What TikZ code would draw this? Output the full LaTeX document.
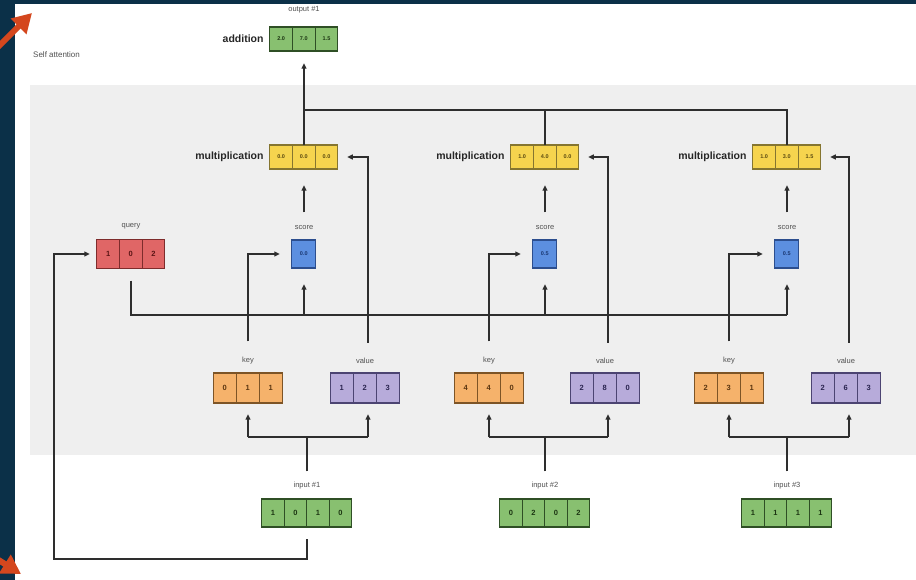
\documentclass[tikz,border=0pt]{standalone}
\usepackage{fontspec}
\setmainfont{Liberation Sans}
\usetikzlibrary{arrows.meta,calc}

\definecolor{frame}{HTML}{0B3048}
\definecolor{panel}{HTML}{EFEFEF}
\definecolor{linec}{HTML}{2E2E2E}
\definecolor{lblc}{HTML}{505050}
\definecolor{pointer}{HTML}{D4471E}
\definecolor{grnfill}{HTML}{88C070}\definecolor{grnline}{HTML}{2F4F25}\definecolor{grntext}{HTML}{1C3512}
\definecolor{ylwfill}{HTML}{F6D44E}\definecolor{ylwline}{HTML}{857530}\definecolor{ylwtext}{HTML}{5A4A10}
\definecolor{blufill}{HTML}{5C8FE0}\definecolor{bluline}{HTML}{2C4E8E}\definecolor{blutext}{HTML}{1A3670}
\definecolor{redfill}{HTML}{E06666}\definecolor{redline}{HTML}{7E2C2C}\definecolor{redtext}{HTML}{5A1515}
\definecolor{orgfill}{HTML}{F5B26B}\definecolor{orgline}{HTML}{7D5426}\definecolor{orgtext}{HTML}{5A3510}
\definecolor{prpfill}{HTML}{B7ABDA}\definecolor{prpline}{HTML}{4C4472}\definecolor{prptext}{HTML}{2A2450}

\tikzset{
  greencell/.style={draw=grnline, fill=grnfill, text=grntext},
  yellowcell/.style={draw=ylwline, fill=ylwfill, text=ylwtext},
  bluecell/.style={draw=bluline, fill=blufill, text=blutext},
  redcell/.style={draw=redline, fill=redfill, text=redtext},
  orangecell/.style={draw=orgline, fill=orgfill, text=orgtext},
  purplecell/.style={draw=prpline, fill=prpfill, text=prptext},
  lbl/.style={text=lblc, inner sep=0pt, font=\fontsize{7.5}{8}\selectfont},
  oplbl/.style={text=black!85, inner sep=0pt, font=\fontsize{10.5}{12}\selectfont\bfseries},
  ln/.style={draw=linec, line width=1.3pt},
  arr/.style={ln, -{Triangle[length=5.5pt,width=5pt]}},
  pointerarrow/.style={draw=pointer, line width=6pt, -{Triangle[length=19pt,width=21pt]}},
}

% #1 name, #2 centre, #3 number of cells, #4 cell width, #5 height,
% #6 cell style, #7 font, #8 values
\newcommand\cellrow[8]{%
  \pgfmathsetmacro\rowwd{#3*#4}%
  \node[inner sep=0pt, minimum width=\rowwd pt, minimum height=#5pt] (#1) at (#2) {};
  \foreach \cellval [count=\ci] in {#8} {%
    \node[#6, line width=1.1pt, inner sep=0pt, minimum width=#4pt, minimum height=#5pt, font=#7]
      (#1-\ci) at ($(#1.west)+({(\ci-0.5)*#4},0)$) {\cellval};
  }%
}

\begin{document}
\begin{tikzpicture}[x=1pt,y=-1pt]
\useasboundingbox (0,0) rectangle (916,580);
\fill[frame] (0,0) rectangle (916,580);
\fill[white] (15,4) rectangle (916,580);
\fill[panel] (30,85) rectangle (916,455);

\node[lbl, anchor=west, font=\fontsize{8}{9}\selectfont] (title) at (33,55) {Self attention};

% value rows
\def\smallnum{\fontsize{5.5}{6}\selectfont\bfseries}
\def\kvnum{\fontsize{7.5}{8}\selectfont\bfseries}
\cellrow{add}{304,39}{3}{22.7}{24}{greencell}{\smallnum}{2.0,7.0,1.5}
\cellrow{mult1}{304,157}{3}{22.7}{24}{yellowcell}{\smallnum}{0.0,0.0,0.0}
\cellrow{mult2}{545,157}{3}{22.7}{24}{yellowcell}{\smallnum}{1.0,4.0,0.0}
\cellrow{mult3}{787,157}{3}{22.7}{24}{yellowcell}{\smallnum}{1.0,3.0,1.5}
\cellrow{sc1}{304,254}{1}{24}{28}{bluecell}{\smallnum}{0.0}
\cellrow{sc2}{545,254}{1}{24}{28}{bluecell}{\smallnum}{0.5}
\cellrow{sc3}{787,254}{1}{24}{28}{bluecell}{\smallnum}{0.5}
\cellrow{query}{131,254}{3}{22.7}{29}{redcell}{\kvnum}{1,0,2}
\cellrow{k1}{248,388}{3}{23}{30}{orangecell}{\kvnum}{0,1,1}
\cellrow{v1}{365,388}{3}{23}{30}{purplecell}{\kvnum}{1,2,3}
\cellrow{k2}{489,388}{3}{23}{30}{orangecell}{\kvnum}{4,4,0}
\cellrow{v2}{605,388}{3}{23}{30}{purplecell}{\kvnum}{2,8,0}
\cellrow{k3}{729,388}{3}{23}{30}{orangecell}{\kvnum}{2,3,1}
\cellrow{v3}{846,388}{3}{23}{30}{purplecell}{\kvnum}{2,6,3}
\cellrow{in1}{307,513}{4}{22.5}{28}{greencell}{\kvnum}{1,0,1,0}
\cellrow{in2}{545,513}{4}{22.5}{28}{greencell}{\kvnum}{0,2,0,2}
\cellrow{in3}{787,513}{4}{22.5}{28}{greencell}{\kvnum}{1,1,1,1}

% labels
\node[lbl, anchor=south] (outlbl) at ([yshift=14pt]add.north) {output \#1};
\node[oplbl, anchor=east] (addlbl) at ([xshift=-6pt]add.west) {addition};
\foreach \m in {1,2,3}
  \node[oplbl, anchor=east] (mult\m lbl) at ([xshift=-6pt]mult\m.west) {multiplication};
\foreach \s in {1,2,3}
  \node[lbl, anchor=south] (sc\s lbl) at ([yshift=10pt]sc\s.north) {score};
\node[lbl, anchor=south] (querylbl) at ([yshift=10pt]query.north) {query};
\foreach \j in {1,2,3} {
  \node[lbl, anchor=south] (k\j lbl) at ([yshift=9pt]k\j.north) {key};
  \node[lbl, anchor=south] (v\j lbl) at ([yshift=9pt]v\j.north) {value};
  \node[lbl, anchor=south] (in\j lbl) at ([yshift=10pt]in\j.north) {input \#\j};
}

% sum of the weighted values
\coordinate (bus) at (304,110);
\draw[arr, shorten >=12pt] (mult1.north) -- (add.south);
\draw[ln] (mult2.north) -- (mult2.north |- bus);
\draw[ln] (mult3.north) |- (bus);

% query against every key
\coordinate (qbus) at (0,315);
\draw[ln, shorten <=12pt] (query.south) |- (sc3.south |- qbus);
\foreach \s in {1,2,3} {
  \draw[arr, shorten >=16pt] (sc\s.south |- qbus) -- (sc\s.south);
  \draw[arr, shorten <=13pt, shorten >=16pt] (sc\s lbl.north) -- (mult\s.south);
  \draw[arr, shorten <=15pt, shorten >=12pt] (k\s lbl.north) |- (sc\s.west);
  \draw[arr, shorten <=15pt, shorten >=9pt] ([xshift=3pt]v\s lbl.north) |- (mult\s.east);
}

% inputs feed their key and value
\coordinate (ib) at (0,437);
\foreach \j in {1,2,3} {
  \draw[ln, shorten <=10pt] (in\j lbl.north) -- (in\j lbl.north |- ib);
  \draw[ln] (k\j.south |- ib) -- ([xshift=3pt]v\j.south |- ib);
  \draw[arr, shorten >=11pt] (k\j.south |- ib) -- (k\j.south);
  \draw[arr, shorten >=11pt] ([xshift=3pt]v\j.south |- ib) -- ([xshift=3pt]v\j.south);
}

% input #1 also gives the query
\coordinate (loop) at (54,559);
\draw[arr, shorten <=12pt, shorten >=7pt] (in1.south) |- (loop) |- (query.west);

% frame and pointers
\fill[frame] (0,0) rectangle (15,580);
\fill[frame] (0,0) rectangle (916,4);
\coordinate (ptrA) at (32,13);
\coordinate (ptrB) at (21,574);
\draw[pointerarrow] (-14,59) -- (ptrA);
\draw[pointerarrow] (-40,536) -- (ptrB);
\end{tikzpicture}
\end{document}
